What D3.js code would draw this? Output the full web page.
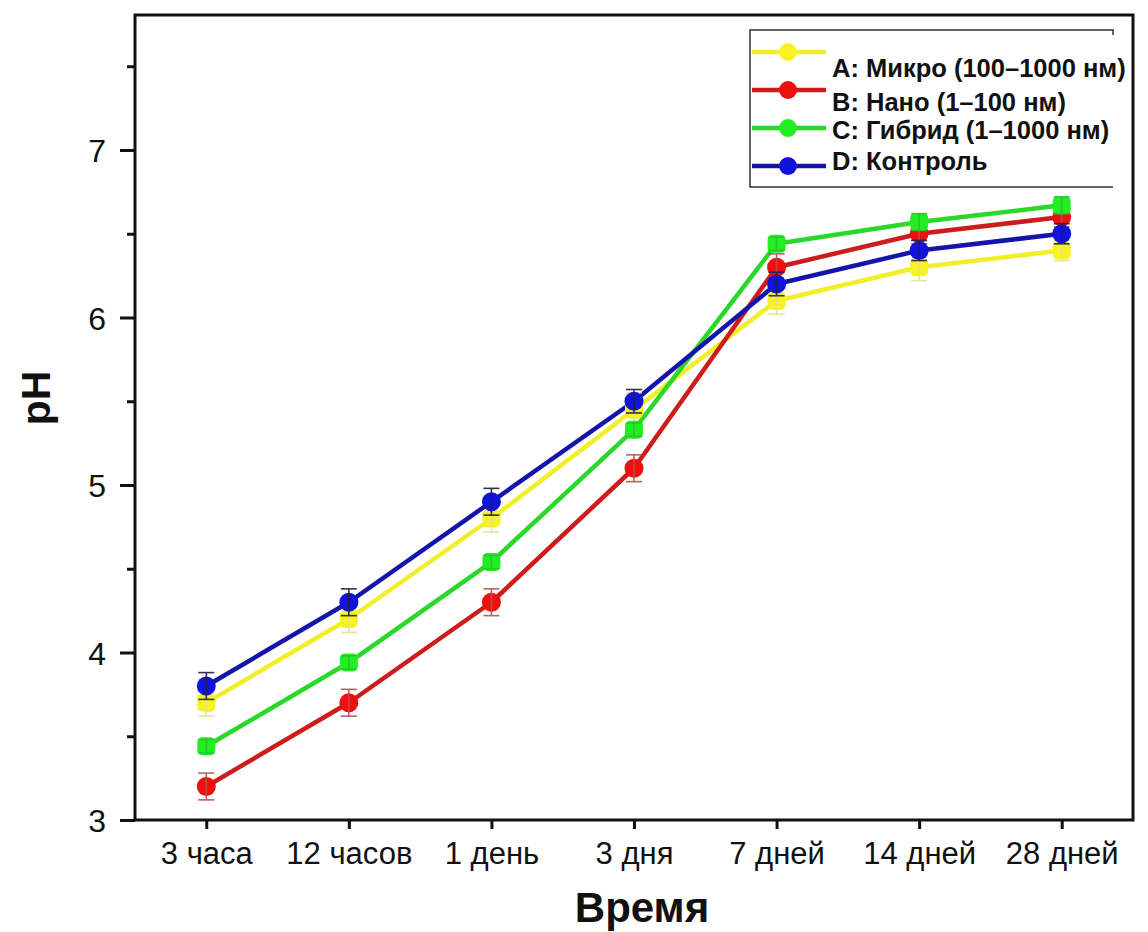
<!DOCTYPE html>
<html>
<head>
<meta charset="utf-8">
<script src="https://cdn.jsdelivr.net/npm/d3@7"></script>
<style>
  body { margin: 0; background: #fff; }
  svg { display: block; font-family: "Liberation Sans", Arial, sans-serif; }
</style>
</head>
<body>
<div id="chart"></div>
<script>
// time points
const timeLabels = ["3 часа", "12 часов", "1 день", "3 дня", "7 дней", "14 дней", "28 дней"];

// pH values per group
const microValues  = [3.70, 4.20, 4.80, 5.45, 6.10, 6.30, 6.40];
const nanoValues   = [3.20, 3.70, 4.30, 5.10, 6.30, 6.50, 6.60];
const hybridValues = [3.44, 3.94, 4.54, 5.33, 6.44, 6.57, 6.67];
const controlValues = [3.80, 4.30, 4.90, 5.50, 6.20, 6.40, 6.50];

// standard deviations
const microErr  = [0.08, 0.08, 0.08, 0.10, 0.08, 0.08, 0.06];
const nanoErr   = [0.08, 0.08, 0.08, 0.08, 0.08, 0.06, 0.06];
const hybridErr = [0.04, 0.04, 0.04, 0.04, 0.04, 0.05, 0.05];
const controlErr = [0.08, 0.08, 0.08, 0.07, 0.07, 0.06, 0.06];

const yTicks = [3, 4, 5, 6, 7];
const yMinorTicks = [3.5, 4.5, 5.5, 6.5, 7.5];

const series = [
    { name: "A: Микро (100–1000 нм)", values: microValues, err: microErr,
      line: "#f2ee2a", fill: "#f7f224", bar: "#e8e08a", shape: "square" },
    { name: "B: Нано (1–100 нм)", values: nanoValues, err: nanoErr,
      line: "#cc1c1c", fill: "#ee0f0f", bar: "#b85050", shape: "circle" },
    { name: "C: Гибрид (1–1000 нм)", values: hybridValues, err: hybridErr,
      line: "#2ad82a", fill: "#22ee22", bar: "#30c030", shape: "square" },
    { name: "D: Контроль", values: controlValues, err: controlErr,
      line: "#1414aa", fill: "#1212dd", bar: "#202040", shape: "circle" }
];

const W = 1148, H = 932;
const margin = { top: 15, right: 15, bottom: 112, left: 135 },
    width = W - margin.left - margin.right,
    height = H - margin.top - margin.bottom;

const svg = d3.select("#chart").append("svg")
    .attr("width", W)
    .attr("height", H);

const g = svg.append("g")
    .attr("transform", `translate(${margin.left},${margin.top})`);

const x = d3.scalePoint().domain(timeLabels).range([0, width]).padding(0.5);
const y = d3.scaleLinear().domain([3, 3 + height / 167.5]).range([height, 0]);

// x axis
const xAxis = g.append("g")
    .attr("transform", `translate(0,${height})`)
    .call(d3.axisBottom(x).tickSize(9).tickPadding(13));
xAxis.select(".domain").remove();
xAxis.selectAll("line").attr("stroke", "#111").attr("stroke-width", 3);
xAxis.selectAll("text")
    .attr("font-size", "31px")
    .attr("fill", "#111")
    .attr("font-family", "Liberation Sans, Arial, sans-serif");

// y axis major
const yAxis = g.append("g")
    .call(d3.axisLeft(y).tickValues(yTicks).tickSize(15).tickPadding(14).tickFormat(d3.format("d")));
yAxis.select(".domain").remove();
yAxis.selectAll("line").attr("stroke", "#111").attr("stroke-width", 3);
yAxis.selectAll("text")
    .attr("font-size", "32px")
    .attr("fill", "#111")
    .attr("dy", "0.36em")
    .attr("font-family", "Liberation Sans, Arial, sans-serif");

// y axis minor
const yMinor = g.append("g")
    .call(d3.axisLeft(y).tickValues(yMinorTicks).tickSize(8).tickFormat(""));
yMinor.select(".domain").remove();
yMinor.selectAll("line").attr("stroke", "#111").attr("stroke-width", 3);

// frame
g.append("rect")
    .attr("x", 0).attr("y", 0)
    .attr("width", width).attr("height", height)
    .attr("fill", "none")
    .attr("stroke", "#111")
    .attr("stroke-width", 3);

// lines
const line = d3.line()
    .x((d, i) => x(timeLabels[i]))
    .y(d => y(d));

g.selectAll(".series-line")
    .data(series)
    .join("path")
    .attr("class", "series-line")
    .attr("d", d => line(d.values))
    .attr("fill", "none")
    .attr("stroke", d => d.line)
    .attr("stroke-width", 4.5)
    .attr("stroke-linejoin", "round");

// markers + error bars per series
series.forEach(s => {
    const pts = s.values.map((v, i) => ({ t: timeLabels[i], v: v, e: s.err[i] }));
    const sg = g.append("g");

    if (s.shape === "square") {
        sg.selectAll("rect")
            .data(pts)
            .join("rect")
            .attr("x", d => x(d.t) - 9)
            .attr("y", d => y(d.v) - 9)
            .attr("width", 18)
            .attr("height", 18)
            .attr("rx", 5)
            .attr("fill", s.fill);
    } else {
        sg.selectAll("circle")
            .data(pts)
            .join("circle")
            .attr("cx", d => x(d.t))
            .attr("cy", d => y(d.v))
            .attr("r", 9.5)
            .attr("fill", s.fill);
    }

    const eb = sg.append("g")
        .attr("stroke", s.bar)
        .attr("stroke-width", 1.6)
        .attr("opacity", 0.9);
    eb.selectAll(".stem")
        .data(pts)
        .join("line")
        .attr("x1", d => x(d.t)).attr("x2", d => x(d.t))
        .attr("y1", d => y(d.v + d.e)).attr("y2", d => y(d.v - d.e));
    eb.selectAll(".capTop")
        .data(pts)
        .join("line")
        .attr("class", "capTop")
        .attr("x1", d => x(d.t) - 8).attr("x2", d => x(d.t) + 8)
        .attr("y1", d => y(d.v + d.e)).attr("y2", d => y(d.v + d.e));
    eb.selectAll(".capBot")
        .data(pts)
        .join("line")
        .attr("class", "capBot")
        .attr("x1", d => x(d.t) - 8).attr("x2", d => x(d.t) + 8)
        .attr("y1", d => y(d.v - d.e)).attr("y2", d => y(d.v - d.e));
});

// legend (page coordinates)
const legend = svg.append("g");
legend.append("path")
    .attr("d", "M1113,35 V30 H750 V187 H1113")
    .attr("fill", "none")
    .attr("stroke", "#333")
    .attr("stroke-width", 1.5);

const legendMarkY = [52, 90, 128, 166];
const legendTextY = [77, 111, 139, 170];

series.forEach((s, i) => {
    legend.append("line")
        .attr("x1", 752).attr("x2", 826)
        .attr("y1", legendMarkY[i]).attr("y2", legendMarkY[i])
        .attr("stroke", s.line)
        .attr("stroke-width", 4.5);
    legend.append("circle")
        .attr("cx", 788).attr("cy", legendMarkY[i])
        .attr("r", 9)
        .attr("fill", s.fill);
    legend.append("text")
        .attr("x", 832).attr("y", legendTextY[i])
        .attr("font-size", "25.5px")
        .attr("font-weight", "bold")
        .attr("fill", "#111")
        .text(s.name);
});

// axis titles
svg.append("text")
    .attr("transform", "translate(50,398) rotate(-90)")
    .attr("text-anchor", "middle")
    .attr("font-size", "41px")
    .attr("font-weight", "bold")
    .attr("fill", "#111")
    .text("pH");

svg.append("text")
    .attr("x", 642).attr("y", 922)
    .attr("text-anchor", "middle")
    .attr("font-size", "42px")
    .attr("font-weight", "bold")
    .attr("fill", "#111")
    .text("Время");
</script>
</body>
</html>
